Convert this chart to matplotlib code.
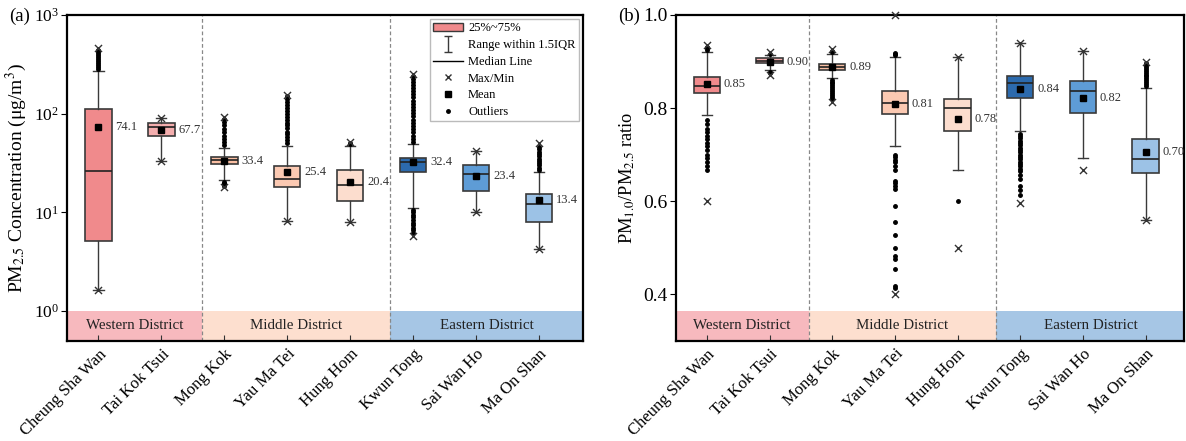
import matplotlib
matplotlib.use("Agg")
import matplotlib.pyplot as plt
from matplotlib.patches import Patch
from matplotlib.lines import Line2D
from matplotlib.path import Path

plt.rcParams['font.family'] = ['Liberation Serif', 'DejaVu Serif']
plt.rcParams['mathtext.fontset'] = 'stix'

# 站点与分区
sites = ['Cheung Sha Wan', 'Tai Kok Tsui', 'Mong Kok', 'Yau Ma Tei', 'Hung Hom',
         'Kwun Tong', 'Sai Wan Ho', 'Ma On Shan']
districts = ['Western District', 'Middle District', 'Eastern District']
box_colors = ['#F08A8C', '#F4AEAE', '#F9BEA2', '#FBC9B2', '#FCDDCE',
              '#2C6AAD', '#5E9CD6', '#9CC2E6']
band_colors = ['#F7B9BE', '#FDDFCF', '#A6C6E5']

# (a) PM2.5 浓度
a_q1 = [5.1, 59, 30.7, 18.1, 12.9, 25.6, 16.5, 8.0]
a_med = [26.4, 73.8, 33.9, 21.6, 18.8, 32.1, 24.5, 12.2]
a_q3 = [111, 79.8, 36.6, 29.7, 26.7, 35.8, 30.2, 15.3]
a_whislo = [1.63, 33, 21.3, 8.2, 8.0, 11.2, 10.2, 4.3]
a_whishi = [273, 91, 44.6, 47, 47.5, 49.3, 42.2, 25.8]
a_mean = [74.1, 67.7, 33.4, 25.4, 20.4, 32.4, 23.4, 13.4]
a_max = [459, 91, 93, 155, 52, 252, 42.2, 50]
a_min = [1.63, 33, 18.2, 8.2, 8.0, 5.8, 10.2, 4.3]
a_fliers = [
    [285, 300, 315, 330, 345, 360, 375, 390, 410, 430, 445],
    [],
    [48, 52, 56, 60, 65, 70, 76, 82, 88, 20.5, 19.8, 19.2, 18.7],
    [50, 54, 58, 62, 66, 71, 76, 81, 87, 93, 100, 107, 115, 123, 132, 142, 150],
    [49, 50.5],
    [52, 56, 60, 65, 70, 75, 81, 87, 94, 101, 109, 117, 126, 136, 146, 157, 169,
     182, 196, 210, 226, 240, 10.6, 10.0, 9.4, 8.9, 8.4, 7.9, 7.4, 7.0, 6.6, 6.2],
    [],
    [27, 28.5, 30, 31.5, 33, 35, 37, 39, 41, 43.5, 46],
]
a_labels = ['74.1', '67.7', '33.4', '25.4', '20.4', '32.4', '23.4', '13.4']
a_bounds = [0.5, 2.64, 5.64, 8.7]

# (b) PM1.0/PM2.5 比值
b_q1 = [0.833, 0.897, 0.882, 0.787, 0.751, 0.821, 0.790, 0.661]
b_med = [0.847, 0.902, 0.889, 0.811, 0.801, 0.853, 0.836, 0.691]
b_q3 = [0.867, 0.908, 0.894, 0.836, 0.819, 0.869, 0.858, 0.734]
b_whislo = [0.786, 0.881, 0.865, 0.718, 0.667, 0.750, 0.692, 0.560]
b_whishi = [0.921, 0.914, 0.917, 0.909, 0.910, 0.939, 0.923, 0.844]
b_mean = [0.851, 0.900, 0.888, 0.808, 0.777, 0.842, 0.822, 0.705]
b_max = [0.935, 0.920, 0.926, 1.0, 0.910, 0.939, 0.923, 0.899]
b_min = [0.600, 0.871, 0.813, 0.400, 0.500, 0.596, 0.667, 0.560]
b_fliers = [
    [0.925, 0.928, 0.931, 0.775, 0.765, 0.755, 0.748, 0.740, 0.733, 0.725, 0.718,
     0.710, 0.700, 0.692, 0.685, 0.676, 0.666],
    [0.917, 0.878, 0.875],
    [0.920, 0.923, 0.861, 0.857, 0.853, 0.849, 0.845, 0.841, 0.837, 0.833, 0.829,
     0.824, 0.820],
    [0.913, 0.916, 0.919, 0.700, 0.695, 0.689, 0.683, 0.675, 0.666, 0.644, 0.639,
     0.633, 0.625, 0.590, 0.556, 0.527, 0.500, 0.481, 0.476, 0.455, 0.417, 0.413],
    [0.600],
    [0.745, 0.740, 0.735, 0.730, 0.725, 0.720, 0.715, 0.710, 0.705, 0.700, 0.695,
     0.690, 0.685, 0.680, 0.675, 0.670, 0.664, 0.656, 0.648, 0.632, 0.624, 0.614],
    [],
    [0.848, 0.852, 0.856, 0.860, 0.864, 0.868, 0.872, 0.876, 0.880, 0.884, 0.888,
     0.892, 0.896],
]
b_labels = ['0.85', '0.90', '0.89', '0.81', '0.78', '0.84', '0.82', '0.70']
b_bounds = [0.5, 2.62, 5.62, 8.62]

line_col = '#3a3a3a'
positions = list(range(1, len(sites) + 1))


def draw_panel(ax, q1, med, q3, wlo, whi, mean, vmax, vmin, fliers, labels, bounds):
    stats = []
    for i in range(len(sites)):
        stats.append(dict(q1=q1[i], med=med[i], q3=q3[i], whislo=wlo[i],
                          whishi=whi[i], mean=mean[i], fliers=fliers[i]))
    bp = ax.bxp(stats, positions=positions, widths=0.42, patch_artist=True,
                showmeans=True,
                boxprops=dict(edgecolor=line_col, linewidth=1.2),
                medianprops=dict(color='#222222', linewidth=1.2),
                whiskerprops=dict(color=line_col, linewidth=1.0),
                capprops=dict(color=line_col, linewidth=1.0),
                capwidths=0.16,
                meanprops=dict(marker='s', markerfacecolor='black',
                               markeredgecolor='black', markersize=5),
                flierprops=dict(marker='o', markerfacecolor='black',
                                markeredgecolor='black', markersize=2.5))
    for patch, c in zip(bp['boxes'], box_colors):
        patch.set_facecolor(c)
    ax.scatter(positions, vmax, marker='x', s=26, color='#333333', linewidths=1.0,
               zorder=4, clip_on=False)
    ax.scatter(positions, vmin, marker='x', s=26, color='#333333', linewidths=1.0,
               zorder=4, clip_on=False)
    for p, m, t in zip(positions, mean, labels):
        ax.text(p + 0.27, m, t, fontsize=9, color='#333333', va='center', ha='left')

    # 分区色带
    for j in range(len(districts)):
        ax.axvspan(bounds[j], bounds[j + 1], ymin=0, ymax=0.092,
                   color=band_colors[j], zorder=0, lw=0)
        ax.text((bounds[j] + bounds[j + 1]) / 2, 0.046, districts[j],
                transform=ax.get_xaxis_transform(), ha='center', va='center',
                fontsize=10.8, color='#222222')
    for b in bounds[1:-1]:
        ax.axvline(b, color='#888888', linestyle=(0, (3, 2)), linewidth=0.9, zorder=1)

    ax.set_xlim(bounds[0], bounds[-1])
    ax.set_xticks(positions)
    ax.set_xticklabels(sites, rotation=45, ha='right', rotation_mode='anchor',
                       fontsize=12)
    ax.tick_params(axis='x', direction='in', length=4, color='#333333', pad=4)
    ax.tick_params(axis='y', direction='out', length=4)
    for s in ax.spines.values():
        s.set_linewidth(1.6)


fig = plt.figure(figsize=(11.86, 4.41), dpi=100)
ax1 = fig.add_axes([0.0565, 0.2274, 0.4351, 0.7386])
ax2 = fig.add_axes([0.5697, 0.2274, 0.4290, 0.7386])

ax1.set_yscale('log')
ax1.set_ylim(10 ** -0.3, 1000)
draw_panel(ax1, a_q1, a_med, a_q3, a_whislo, a_whishi, a_mean, a_max, a_min,
           a_fliers, a_labels, a_bounds)
ax1.set_yticks([1, 10, 100, 1000])
ax1.minorticks_off()
ax1.tick_params(axis='y', labelsize=12.5, pad=2)
ax1.set_ylabel('PM$_{2.5}$ Concentration (μg/m$^3$)', fontsize=14, labelpad=3)

ax2.set_ylim(0.3, 1.0)
draw_panel(ax2, b_q1, b_med, b_q3, b_whislo, b_whishi, b_mean, b_max, b_min,
           b_fliers, b_labels, b_bounds)
ax2.set_yticks([0.4, 0.6, 0.8, 1.0])
ax2.set_yticklabels(['0.4', '0.6', '0.8', '1.0'])
ax2.tick_params(axis='y', labelsize=14, pad=2)
ax2.set_ylabel('PM$_{1.0}$/PM$_{2.5}$ ratio', fontsize=13.2, labelpad=4)

# 图例
ibar = Path([(-0.5, 1), (0.5, 1), (0, 1), (0, -1), (-0.5, -1), (0.5, -1)],
            [Path.MOVETO, Path.LINETO, Path.MOVETO, Path.LINETO, Path.MOVETO, Path.LINETO])
handles = [
    Patch(facecolor='#F08A8C', edgecolor=line_col, linewidth=1.0),
    Line2D([], [], linestyle='none', marker=ibar, markersize=11, color=line_col,
           markeredgewidth=1.0),
    Line2D([], [], color='black', linewidth=1.0),
    Line2D([], [], linestyle='none', marker='x', markersize=5, color='#333333'),
    Line2D([], [], linestyle='none', marker='s', markersize=5, color='black'),
    Line2D([], [], linestyle='none', marker='o', markersize=2.5, color='black'),
]
leg_labels = ['25%~75%', 'Range within 1.5IQR', 'Median Line', 'Max/Min', 'Mean', 'Outliers']
leg = ax1.legend(handles, leg_labels, loc='upper right', fontsize=9.0, frameon=True,
                 fancybox=False, edgecolor='#aaaaaa', borderaxespad=0.35,
                 handlelength=2.4, labelspacing=0.38, borderpad=0.25, handletextpad=0.4)
leg.get_frame().set_linewidth(1.0)

fig.text(0.008, 0.962, '(a)', fontsize=13.5, va='center')
fig.text(0.521, 0.962, '(b)', fontsize=13.5, va='center')

fig.savefig('out.png', dpi=100)
